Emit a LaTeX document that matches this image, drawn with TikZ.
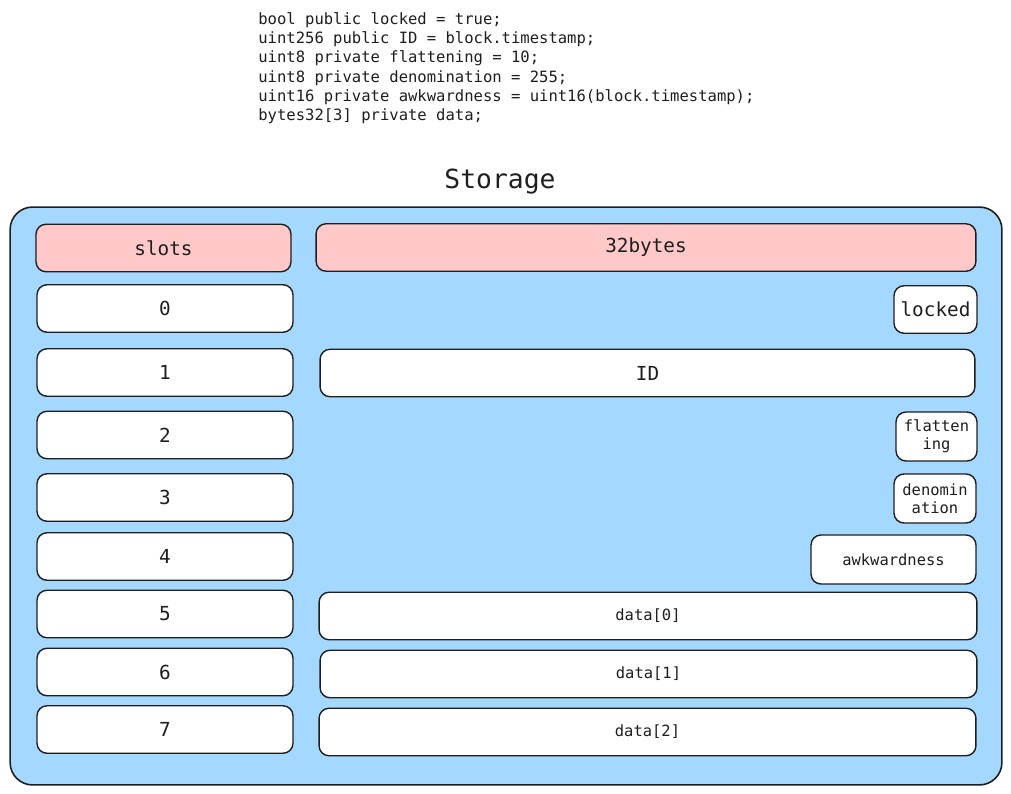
\documentclass[tikz,border=0pt]{standalone}
\usepackage{fontspec}
\setmonofont{DejaVu Sans Mono}
\usepackage{tikz}
\definecolor{boxblue}{HTML}{A5D8FF}
\definecolor{headred}{HTML}{FFC9C9}
\definecolor{ink}{HTML}{1E1E1E}
\tikzstyle{frame} = [rectangle, rounded corners=0.45cm, draw=ink, line width=0.9pt, fill=boxblue, minimum width=19.84cm, minimum height=11.56cm]
\tikzstyle{cell} = [rectangle, rounded corners=0.2cm, draw=ink, line width=0.8pt, fill=white, text=ink, minimum height=0.95cm, align=center, inner sep=2pt]
\tikzstyle{head} = [cell, fill=headred, font=\ttfamily\fontsize{11}{13}\selectfont]
\tikzstyle{slot} = [cell, minimum width=5.12cm, font=\ttfamily\fontsize{11}{13}\selectfont]
\tikzstyle{field} = [cell, font=\ttfamily\fontsize{8.8}{10.5}\selectfont]

\begin{document}
\begin{tikzpicture}[x=0.02cm, y=-0.02cm]
        \useasboundingbox (0,0) rectangle (1011,794);
        % solidity source
        \node (code) [anchor=north west, inner sep=0pt, align=left, text=ink, font=\ttfamily\fontsize{8.85}{11}\selectfont] at (258,12)
            {bool public locked = true;\\
             uint256 public ID = block.timestamp;\\
             uint8 private flattening = 10;\\
             uint8 private denomination = 255;\\
             uint16 private awkwardness = uint16(block.timestamp);\\
             bytes32[3] private data;};
        \node (title) [text=ink, font=\ttfamily\fontsize{15}{18}\selectfont] at (500,182) {Storage};
        \node (storage) [frame] at (506,496) {};
        % headers
        \node (slots) [head, minimum width=5.1cm] at (163.5,248) {slots};
        \node (bytes) [head, minimum width=13.2cm] at (646,247.5) {32bytes};
        % slot numbers
        \node (s0) [slot] at (165,308.5) {0};
        \node (s1) [slot] at (165,372.5) {1};
        \node (s2) [slot] at (165,435) {2};
        \node (s3) [slot] at (165,497.5) {3};
        \node (s4) [slot] at (165,556.5) {4};
        \node (s5) [slot] at (165,614) {5};
        \node (s6) [slot] at (165,672) {6};
        \node (s7) [slot] at (165,729.5) {7};
        % variables
        \node (locked) [field, minimum width=1.66cm, font=\ttfamily\fontsize{11}{13}\selectfont] at (935.5,309.5) {locked};
        \node (id) [field, minimum width=13.1cm, font=\ttfamily\fontsize{11}{13}\selectfont] at (647.5,373) {ID};
        \node (flat) [field, minimum width=1.62cm, minimum height=0.98cm] at (936.5,436.5) {flatten\\ing};
        \node (denom) [field, minimum width=1.64cm, minimum height=0.98cm] at (935,498.5) {denomin\\ation};
        \node (awk) [field, minimum width=3.3cm, minimum height=0.98cm] at (893.5,559.5) {awkwardness};
        \node (data0) [field, minimum width=13.16cm] at (648,616) {data[0]};
        \node (data1) [field, minimum width=13.14cm] at (648.5,674) {data[1]};
        \node (data2) [field, minimum width=13.14cm] at (647.5,732) {data[2]};
    \end{tikzpicture}
\end{document}
